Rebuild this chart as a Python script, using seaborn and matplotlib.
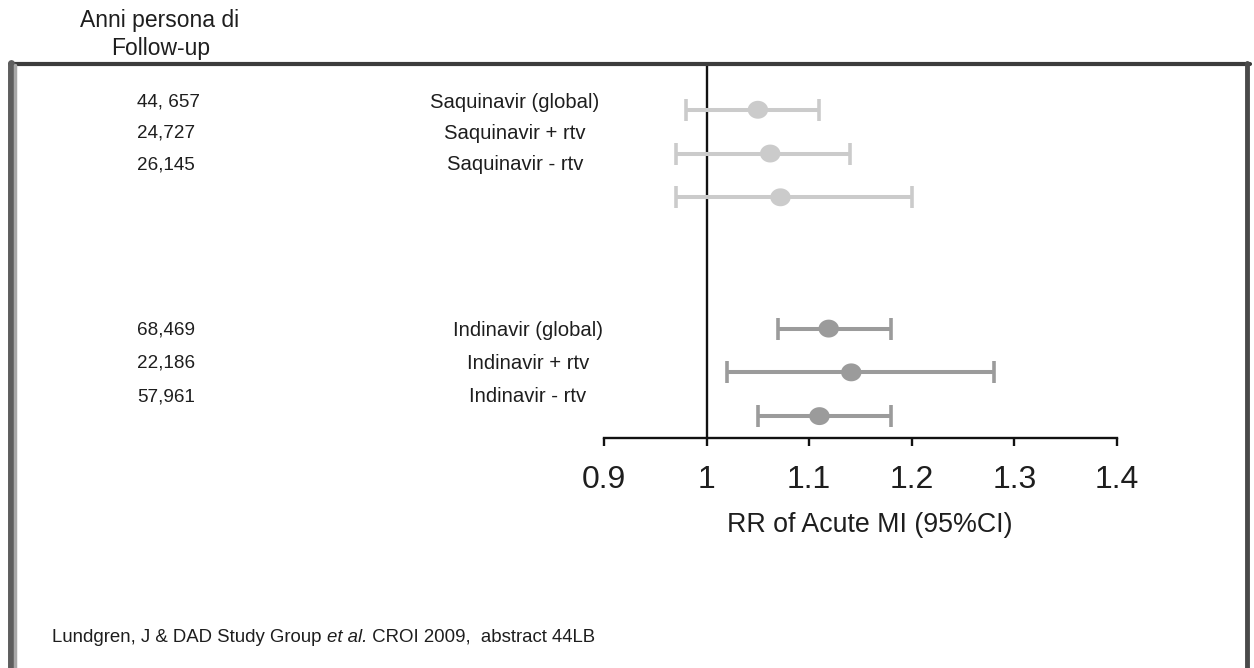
import matplotlib
matplotlib.use('Agg')
import matplotlib.pyplot as plt
from matplotlib.lines import Line2D
from matplotlib.path import Path
import numpy as np
import pandas as pd
import seaborn as sns

# ---------------- data ----------------
drugs = ['Saquinavir (global)', 'Saquinavir + rtv', 'Saquinavir - rtv',
         'Indinavir (global)', 'Indinavir + rtv', 'Indinavir - rtv']
group = ['Saquinavir', 'Saquinavir', 'Saquinavir',
         'Indinavir', 'Indinavir', 'Indinavir']
follow_up = ['44, 657', '24,727', '26,145', '68,469', '22,186', '57,961']
rr = [1.05, 1.062, 1.072, 1.119, 1.141, 1.11]
ci_low = [0.98, 0.97, 0.97, 1.07, 1.02, 1.05]
ci_high = [1.11, 1.14, 1.20, 1.18, 1.28, 1.18]
x_ticks = [0.9, 1.0, 1.1, 1.2, 1.3, 1.4]
x_ticklabels = ['0.9', '1', '1.1', '1.2', '1.3', '1.4']
x_label = 'RR of Acute MI (95%CI)'
header = ['Anni persona di', 'Follow-up']
footer = ['Lundgren, J & DAD Study Group ', 'et al.', ' CROI 2009,  abstract 44LB']

colors = {'Saquinavir': '#cbcbcb', 'Indinavir': '#9b9b9b'}

# ---------------- layout ----------------
sns.set_theme(style='white')
plt.rcParams['font.family'] = ['Liberation Sans', 'DejaVu Sans']
TXT = '#1e1e1e'

W, H = 1254, 668
fig = plt.figure(figsize=(W / 100, H / 100), dpi=100)
fig.patch.set_facecolor('white')

# row index: each group of 3 separated by 2 blank rows
groups_order = ['Saquinavir', 'Indinavir']
within = []
counter = {}
for g in group:
    counter[g] = counter.get(g, 0) + 1
    within.append(counter[g] - 1)
rows = [groups_order.index(g) * 5 + i for g, i in zip(group, within)]

df = pd.DataFrame({'drug': drugs, 'group': group, 'rr': rr,
                   'low': ci_low, 'high': ci_high, 'row': rows})

ax = fig.add_axes([604 / W, 1 - 438 / H, 513 / W, 372 / H])
ax.set_facecolor('white')
ax.set_xlim(0.9, 1.4)
ax.set_ylim(7.5, -1)

ax.axvline(1.0, color='#111111', lw=1.7, zorder=1)

for g in groups_order:
    sub = df[df['group'] == g]
    ax.errorbar(sub['rr'], sub['row'],
                xerr=[sub['rr'] - sub['low'], sub['high'] - sub['rr']],
                fmt='none', ecolor=colors[g], elinewidth=2.9,
                capsize=8, capthick=2.6, zorder=2)

t = np.linspace(0, 2 * np.pi, 60)
ell = Path(np.column_stack([np.cos(t), 0.88 * np.sin(t)]), closed=True)
sns.scatterplot(data=df, x='rr', y='row', hue='group', palette=colors,
                marker=ell, s=215, edgecolor='none', linewidth=0,
                legend=False, ax=ax, zorder=3)

for sp in ['left', 'top', 'right']:
    ax.spines[sp].set_visible(False)
ax.spines['bottom'].set_color('#111111')
ax.spines['bottom'].set_linewidth(1.7)
ax.set_yticks([])
ax.set_ylabel('')
ax.set_xticks(x_ticks)
ax.set_xticklabels(x_ticklabels)
ax.tick_params(axis='x', direction='out', length=5.5, width=1.7,
               colors='#111111', labelsize=23, pad=14, bottom=True)
for lab in ax.get_xticklabels():
    lab.set_color(TXT)
ax.set_xlabel(x_label, fontsize=19.3, color=TXT)
ax.xaxis.set_label_coords((870 - 604) / 513, (438 - 525) / 372)
ax.xaxis.label.set_va('center')

# left column texts
label_layout = {'Saquinavir': (102, 31.5, 515), 'Indinavir': (330, 33.5, 528)}
for fu, d, g, i in zip(follow_up, drugs, group, within):
    y0, step, xc = label_layout[g]
    yp = y0 + i * step
    fig.text(137 / W, 1 - yp / H, fu, ha='left', va='center',
             fontsize=13.6, color=TXT)
    fig.text(xc / W, 1 - yp / H, d, ha='center', va='center',
             fontsize=14.6, color=TXT)

fig.text(160 / W, 1 - 20 / H, header[0], ha='center', va='center',
         fontsize=16.5, color=TXT)
fig.text(161 / W, 1 - 48 / H, header[1], ha='center', va='center',
         fontsize=16.5, color=TXT)

# footer with italic part
renderer = fig.canvas.get_renderer()
xcur = 52
for k, part in enumerate(footer):
    tt = fig.text(xcur / W, 1 - 637 / H, part, ha='left', va='center',
                  fontsize=13.4, color=TXT,
                  style='italic' if k == 1 else 'normal')
    bb = tt.get_window_extent(renderer=renderer)
    xcur = bb.x1

# frame around the panel
fig.add_artist(Line2D([10 / W, 1250 / W], [1 - 64 / H, 1 - 64 / H],
                      transform=fig.transFigure, color='#3c3c3c', lw=3))
fig.add_artist(Line2D([11 / W, 11 / W], [0, 1 - 63 / H],
                      transform=fig.transFigure, color='#5e5e5e', lw=5))
fig.add_artist(Line2D([15.5 / W, 15.5 / W], [0, 1 - 65 / H],
                      transform=fig.transFigure, color='#a8a8a8', lw=2.5))
fig.add_artist(Line2D([1247 / W, 1247 / W], [0, 1 - 63 / H],
                      transform=fig.transFigure, color='#4a4a4a', lw=3.5))

fig.savefig('out.png', dpi=100, facecolor='white')
